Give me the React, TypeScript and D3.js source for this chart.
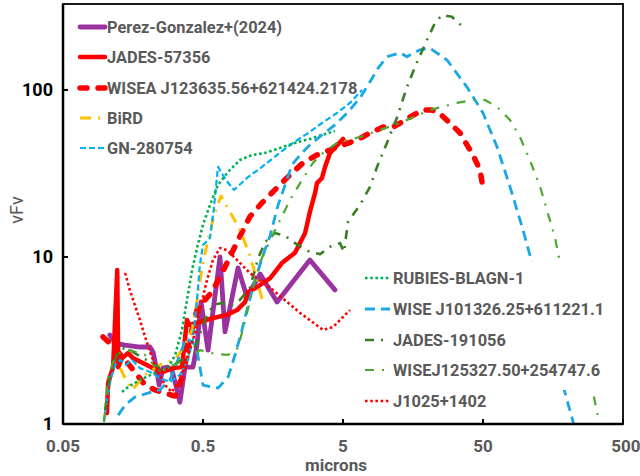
import React from 'react';
import * as d3 from 'd3';

const W = 640;
const H = 476;

const xTicks = [0.05, 0.5, 5, 50, 500];
const xTickLabels = ['0.05', '0.5', '5', '50', '500'];
const yTicks = [1, 10, 100];
const yTickLabels = ['1', '10', '100'];

const perezX = [0.108, 0.118, 0.139, 0.177, 0.209, 0.22, 0.235, 0.243, 0.259, 0.28, 0.3, 0.32, 0.342, 0.372, 0.424, 0.453, 0.484, 0.543, 0.661, 0.718, 0.805, 0.889, 1.03, 1.28, 1.69, 2.9, 4.38];
const perezY = [3.41, 3.05, 2.97, 2.89, 2.89, 2.7, 2.05, 1.71, 2.16, 2.19, 2.1, 1.71, 1.35, 2.19, 2.19, 2.97, 5.38, 2.77, 10, 3.56, 5.68, 8.6, 5.76, 7.91, 5.38, 9.6, 6.35];

const jades57356X = [0.103, 0.105, 0.114, 0.122, 0.124, 0.132, 0.146, 0.158, 0.186, 0.22, 0.259, 0.305, 0.354, 0.384, 0.4, 0.475, 0.59, 0.74, 0.875, 1.0, 1.05, 1.22, 1.51, 1.83, 2.27, 2.68, 2.9, 3.16, 3.26, 3.54, 3.72, 4.04, 5.0];
const jades57356Y = [1.16, 1.76, 2.19, 8.36, 2.19, 2.48, 2.66, 2.48, 2.32, 2.16, 2.05, 2.16, 2.19, 4.2, 3.92, 4.08, 4.31, 4.5, 4.81, 5.38, 6.17, 6.61, 7.48, 9.2, 10.6, 13.9, 18.6, 24.2, 27.7, 29.7, 34.6, 42, 50.9];

const wiseaX = [0.0966, 0.112, 0.139, 0.169, 0.193, 0.227, 0.268, 0.316, 0.36, 0.4, 0.453, 0.516, 0.58, 0.718, 0.889, 1.08, 1.32, 1.63, 2.09, 2.59, 3.26, 4.04, 5.0, 6.3, 7.8, 9.66, 11.4, 12.8, 15.1, 18.6, 21.6, 24.7, 29, 34.3, 38.4, 42.4, 47.6, 49.2];
const wiseaY = [3.32, 2.97, 2.42, 1.97, 1.71, 1.6, 1.53, 1.47, 1.97, 3.18, 4.81, 5.53, 6.17, 8.71, 12.6, 17.4, 21.1, 25.2, 31, 36.6, 40.8, 43.7, 46.9, 50.2, 55.3, 60, 60, 63.4, 68.9, 75.9, 75.9, 71.8, 63.4, 55.3, 46.9, 40.8, 33.2, 28.1];

const birdX = [0.128, 0.141, 0.156, 0.193, 0.246, 0.316, 0.372, 0.418, 0.46, 0.5, 0.543, 0.6, 0.672, 0.78, 0.918, 1.08, 1.24, 1.34];
const birdY = [2.16, 1.83, 1.6, 1.97, 2.26, 2.42, 2.97, 3.66, 5.92, 9.33, 12.6, 17.8, 23.2, 18.6, 14.5, 10.3, 6.8, 5.38];

const gnX = [0.098, 0.103, 0.11, 0.118, 0.128, 0.141, 0.156, 0.177, 0.209, 0.246, 0.29, 0.342, 0.39, 0.424, 0.453, 0.475, 0.5, 0.561, 0.596, 0.64, 0.729, 0.832, 1.03, 1.32, 1.69, 2.2, 2.9, 3.54, 4.53, 5.61, 6.84];
const gnY = [1.03, 1.39, 1.886, 2.26, 2.42, 2.26, 2.42, 2.16, 2.05, 1.886, 1.785, 1.97, 2.42, 3.18, 5.53, 8.96, 11.8, 13, 19.1, 34.6, 28.9, 25.2, 29.7, 34.6, 40.8, 48.2, 56.1, 63.4, 72.8, 83.6, 100];

const rubiesX = [0.132, 0.146, 0.177, 0.227, 0.281, 0.316, 0.354, 0.384, 0.418, 0.453, 0.5, 0.561, 0.64, 0.755, 0.918, 1.12, 1.39, 1.78, 2.27, 2.9, 3.54, 4.38];
const rubiesY = [1.555, 1.666, 1.835, 2.02, 2.16, 2.59, 3.66, 5.53, 8.36, 11.3, 15.6, 20.5, 27, 32.3, 38.1, 40.8, 42, 45, 48.2, 50.9, 53.8, 56.8];

const wise1013X = [0.124, 0.139, 0.163, 0.202, 0.246, 0.29, 0.342, 0.378, 0.446, 0.5, 0.64, 0.755, 0.847, 0.95, 1.05, 1.18, 1.32, 1.51, 1.72, 1.93, 2.16, 2.47, 2.9, 3.54, 4.38, 5.43, 6.61, 7.8, 8.9, 10.3, 12.8, 14.3, 17.7, 20.9, 27.7, 38.4, 50, 63, 78, 96.6, 112, 193, 226];
const wise1013Y = [1.13, 1.3, 1.45, 1.53, 1.6, 1.835, 2.59, 3.27, 2.97, 1.71, 1.64, 1.91, 2.59, 3.66, 5.16, 7.28, 9.86, 13.5, 20.5, 27, 35.6, 40.8, 46.9, 53.8, 61.7, 73.8, 89.6, 112, 135, 158, 167, 158, 174, 178, 151, 104, 72.8, 45.6, 26.3, 14.5, 9.2, 1.53, 0.95];

const jades191056X = [0.1, 0.108, 0.12, 0.132, 0.15, 0.177, 0.209, 0.246, 0.3, 0.372, 0.446, 0.516, 0.59, 0.684, 0.78, 0.918, 1.08, 1.24, 1.39, 1.63, 1.93, 2.27, 2.9, 3.43, 4.04, 4.76, 5.08, 5.43, 6.61, 7.8, 8.75, 10.3, 12.2, 14.3, 16.9, 19.9, 22.7, 25.5, 30, 36];
const jades191056Y = [1.21, 1.966, 2.55, 2.85, 2.77, 2.55, 2.35, 2.16, 2.22, 2.48, 2.97, 4.2, 5.16, 5.3, 5.09, 5.53, 6.52, 9.86, 12.3, 13.9, 13.4, 12.1, 10.7, 10.4, 11.5, 12.1, 10.7, 16.2, 20.5, 26.3, 34.6, 48.2, 68.9, 104, 147, 199, 252, 281, 274, 238];

const wise1253X = [0.098, 0.105, 0.114, 0.128, 0.15, 0.193, 0.246, 0.29, 0.372, 0.475, 0.609, 0.755, 0.889, 1.01, 1.14, 1.28, 1.51, 1.78, 2.09, 2.47, 3.05, 3.6, 4.53, 6.61, 9.18, 12.8, 20.9, 32.6, 42.4, 51.7, 63, 78, 91.8, 108, 128, 143, 163, 177, 305, 342];
const wise1253Y = [1.03, 1.886, 2.35, 2.7, 2.77, 2.59, 2.05, 2.22, 2.42, 2.77, 2.63, 2.59, 2.85, 4.31, 6.52, 9.33, 12.6, 16.7, 21.9, 27.7, 36.6, 42, 48.2, 52.3, 57.6, 63.4, 75.9, 83.6, 87.1, 87.1, 79.1, 66.1, 52.3, 38.1, 26.3, 19.1, 13.2, 9.33, 1.555, 0.97];

const j1025X = [0.139, 0.15, 0.163, 0.177, 0.193, 0.209, 0.235, 0.268, 0.3, 0.342, 0.39, 0.446, 0.475, 0.534, 0.59, 0.661, 0.74, 0.847, 1.08, 1.58, 2.47, 3.6, 4.24, 5.0, 5.61];
const j1025Y = [8.02, 6.34, 5.16, 4.2, 3.32, 2.7, 2.1, 1.71, 1.555, 1.835, 2.59, 3.66, 4.81, 7.28, 9.6, 11.3, 11, 9.86, 8.02, 6.34, 4.62, 3.66, 3.81, 4.37, 4.81];

type Series = {
  name: string;
  xs: number[];
  ys: number[];
  color: string;
  width: number;
  dash: string | null;
  cap: 'round' | 'butt';
  group: 1 | 2;
};

const series: Series[] = [
  { name: 'Perez-Gonzalez+(2024)', xs: perezX, ys: perezY, color: '#9A32A0', width: 4.8, dash: null, cap: 'round', group: 1 },
  { name: 'JADES-57356', xs: jades57356X, ys: jades57356Y, color: '#FF0000', width: 4.5, dash: null, cap: 'round', group: 1 },
  { name: 'WISEA J123635.56+621424.2178', xs: wiseaX, ys: wiseaY, color: '#FF0000', width: 5.5, dash: '7 11', cap: 'round', group: 1 },
  { name: 'BiRD', xs: birdX, ys: birdY, color: '#FFC000', width: 3, dash: '11 7 2 7', cap: 'butt', group: 1 },
  { name: 'GN-280754', xs: gnX, ys: gnY, color: '#00B0F0', width: 2.2, dash: '6 3', cap: 'butt', group: 1 },
  { name: 'RUBIES-BLAGN-1', xs: rubiesX, ys: rubiesY, color: '#00B050', width: 2.6, dash: '2.6 2.6', cap: 'butt', group: 2 },
  { name: 'WISE J101326.25+611221.1', xs: wise1013X, ys: wise1013Y, color: '#1AA7E6', width: 2.8, dash: '10 6', cap: 'butt', group: 2 },
  { name: 'JADES-191056', xs: jades191056X, ys: jades191056Y, color: '#3B7D23', width: 2.6, dash: '9 7 2 7', cap: 'butt', group: 2 },
  { name: 'WISEJ125327.50+254747.6', xs: wise1253X, ys: wise1253Y, color: '#4EA72E', width: 2.2, dash: '9 8 2 8', cap: 'butt', group: 2 },
  { name: 'J1025+1402', xs: j1025X, ys: j1025Y, color: '#FF0000', width: 2.6, dash: '2.6 2.6', cap: 'butt', group: 2 },
];

const legend1Y = [27, 57, 88, 118, 148];
const legend2Y = [278, 309, 340, 370, 401];

const FONT = "Roboto, 'Open Sans', sans-serif";
const GRAY = '#595959';

export default function App() {
  const left = 63, right = 623, top = 4, bottom = 424;
  const x = d3.scaleLog().domain([0.05, 500]).range([left, right]);
  const y = d3.scaleLog().domain([1, 327]).range([bottom, top]);
  const line = d3
    .line<[number, number]>()
    .x((d) => x(d[0]))
    .y((d) => y(d[1]));

  const g1 = series.filter((s) => s.group === 1);
  const g2 = series.filter((s) => s.group === 2);

  return (
    <svg width={W} height={H} style={{ position: 'absolute', left: 0, top: 0, background: '#fff' }} fontFamily={FONT}>
      <defs>
        <clipPath id="plotclip">
          <rect x={left} y={top} width={right - left} height={bottom - top} />
        </clipPath>
      </defs>
      <rect x={0} y={0} width={W} height={H} fill="#fff" />
      <g clipPath="url(#plotclip)">
        {series.map((s) => (
          <path
            key={s.name}
            d={line(s.xs.map((v, i) => [v, s.ys[i]] as [number, number])) || ''}
            fill="none"
            stroke={s.color}
            strokeWidth={s.width}
            strokeDasharray={s.dash || undefined}
            strokeLinecap={s.cap}
            strokeLinejoin="round"
          />
        ))}
      </g>
      <rect x={left} y={top} width={right - left} height={bottom - top} fill="none" stroke="#1a1a1a" strokeWidth={2} />
      <line x1={left} x2={left} y1={top} y2={bottom} stroke="#000" strokeWidth={2.5} />
      <line x1={left} x2={right} y1={bottom} y2={bottom} stroke="#000" strokeWidth={2.5} />
      {yTicks.map((t, i) => (
        <g key={'y' + t}>
          <line x1={left} x2={left + 5} y1={y(t)} y2={y(t)} stroke="#000" strokeWidth={2} />
          <text x={53} y={y(t)} dy="0.35em" textAnchor="end" fontSize={18} fontWeight="bold" fill="#000">
            {yTickLabels[i]}
          </text>
        </g>
      ))}
      {xTicks.map((t, i) => (
        <g key={'x' + t}>
          <line x1={x(t)} x2={x(t)} y1={bottom} y2={bottom - 5} stroke="#000" strokeWidth={2} />
          <text x={x(t) + (i === 4 ? 3 : 0)} y={446} dy="0.35em" textAnchor="middle" fontSize={17} fontWeight="bold" fill={GRAY}>
            {xTickLabels[i]}
          </text>
        </g>
      ))}
      <text x={336} y={465} dy="0.35em" textAnchor="middle" fontSize={17} fontWeight="bold" fill={GRAY}>
        microns
      </text>
      <text transform="translate(17,210) rotate(-90)" textAnchor="middle" dy="0.35em" fontSize={18} fill={GRAY}>
        νFν
      </text>
      {g1.map((s, i) => (
        <g key={'l1' + s.name}>
          <line x1={80} x2={105} y1={legend1Y[i]} y2={legend1Y[i]} stroke={s.color} strokeWidth={s.width} strokeDasharray={s.dash || undefined} strokeLinecap={s.cap} />
          <text x={107} y={legend1Y[i]} dy="0.35em" fontSize={16.4} fontWeight="bold" fill={GRAY}>
            {s.name}
          </text>
        </g>
      ))}
      <rect x={358} y={262} width={250} height={128} fill="#fff" />
      {g2.map((s, i) => (
        <g key={'l2' + s.name}>
          <line x1={365} x2={390} y1={legend2Y[i]} y2={legend2Y[i]} stroke={s.color} strokeWidth={s.width} strokeDasharray={s.dash || undefined} strokeLinecap={s.cap} />
          <text x={393} y={legend2Y[i]} dy="0.35em" fontSize={16.4} fontWeight="bold" fill={GRAY}>
            {s.name}
          </text>
        </g>
      ))}
    </svg>
  );
}
